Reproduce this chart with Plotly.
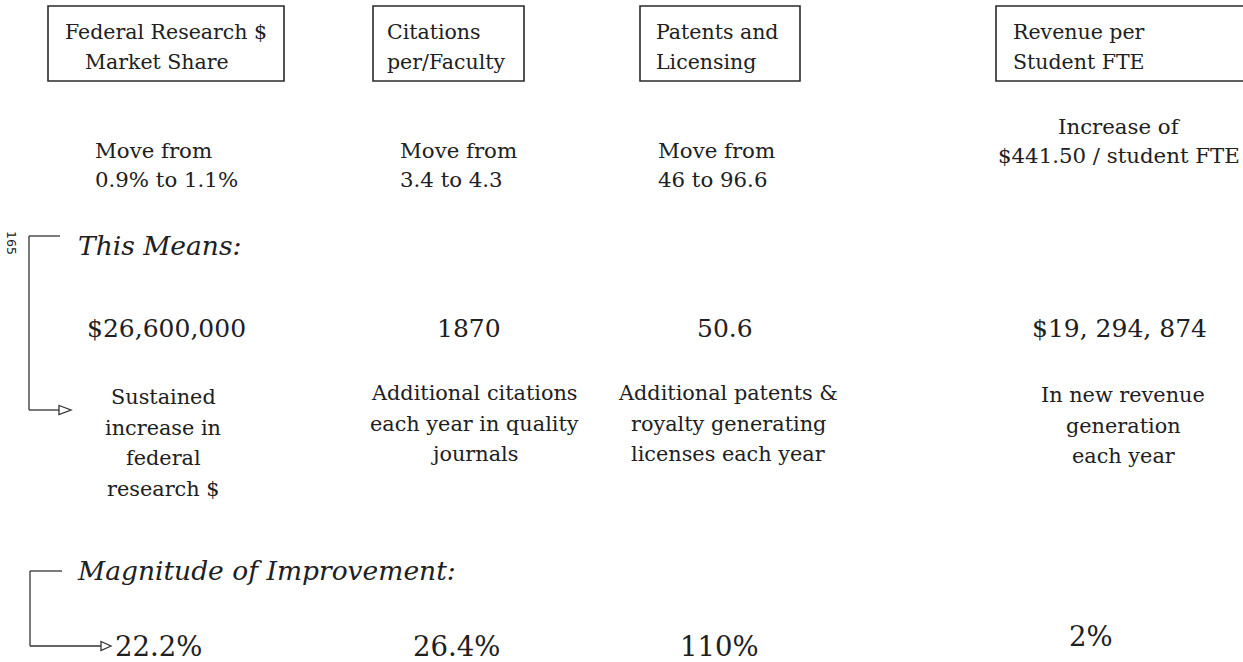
import plotly.graph_objects as go

# ---- data (text content of the diagram) ----
metric_boxes = [
    ["Federal Research $", "Market Share"],
    ["Citations", "per/Faculty"],
    ["Patents and", "Licensing"],
    ["Revenue per", "Student FTE"],
]
targets = [
    ["Move from", "0.9% to 1.1%"],
    ["Move from", "3.4 to 4.3"],
    ["Move from", "46 to 96.6"],
    ["Increase of", "$441.50 / student FTE"],
]
impact_values = ["$26,600,000", "1870", "50.6", "$19, 294, 874"]
impact_desc = [
    ["Sustained", "increase in", "federal", "research $"],
    ["Additional citations", "each year in quality", "journals"],
    ["Additional patents &", "royalty generating", "licenses each year"],
    ["In new revenue", "generation", "each year"],
]
magnitudes = ["22.2%", "26.4%", "110%", "2%"]
section_titles = ["This Means:", "Magnitude of Improvement:"]
page_number = "165"

# ---- layout constants (pixels) ----
W, H = 1243, 662
SERIF = "DejaVu Serif"
INK = "#202020"

box_x = [(48, 284), (373, 524), (640, 800), (996, 1260)]
box_y = (6, 81)
box_text_x = [[166, 157], [385, 385], [654, 654], [1011, 1011]]
box_text_anchor = ["center", "left", "left", "left"]
box_text_y = [32, 62]

target_x = [93, 398, 656, 1119]
target_anchor = ["left", "left", "left", "center"]
target_y = [[150, 179], [150, 179], [150, 179], [126, 155]]

value_x = [166, 469, 725, 1119]
value_y = 328
desc_x = [163, 474, 728, 1123]
desc_y0 = [397, 393, 393, 395]
desc_step = 30.5

mag_x = [113, 456, 719, 1091]
mag_anchor = ["left", "center", "center", "center"]
mag_y = [646, 646, 646, 636]

fig = go.Figure()
ann = []
shapes = []

def txt(x, y, s, size, anchor="center", italic=False, family=SERIF, angle=0):
    ann.append(dict(x=x, y=y, xref="x", yref="y", text=s, showarrow=False,
                    xanchor=anchor, yanchor="middle", textangle=angle,
                    font=dict(family=family, size=size, color=INK,
                              style="italic" if italic else "normal")))

for i, lines in enumerate(metric_boxes):
    x0, x1 = box_x[i]
    shapes.append(dict(type="rect", xref="x", yref="y", x0=x0, x1=x1,
                       y0=box_y[0], y1=box_y[1],
                       line=dict(color="#2a2a2a", width=1.6)))
    for j, s in enumerate(lines):
        txt(box_text_x[i][j], box_text_y[j], s, 20.5, box_text_anchor[i])

for i, lines in enumerate(targets):
    for j, s in enumerate(lines):
        txt(target_x[i], target_y[i][j], s, 21.3, target_anchor[i])

for i, s in enumerate(impact_values):
    txt(value_x[i], value_y, s, 25)

for i, lines in enumerate(impact_desc):
    for j, s in enumerate(lines):
        txt(desc_x[i], desc_y0[i] + j * desc_step, s, 20.8)

for i, s in enumerate(magnitudes):
    txt(mag_x[i], mag_y[i], s, 27.5, mag_anchor[i])

txt(76, 245, section_titles[0], 26.5, "left", italic=True)
txt(75, 570, section_titles[1], 26.5, "left", italic=True)
txt(12, 243, page_number, 12.5, "center", family="DejaVu Sans", angle=90)

# brackets with arrows
LC = "#333333"
def seg(x0, y0, x1, y1, w=1.3):
    shapes.append(dict(type="line", xref="x", yref="y", x0=x0, y0=y0,
                       x1=x1, y1=y1, line=dict(color=LC, width=w)))

def arrowhead(xb, y, xt):
    shapes.append(dict(type="path", xref="x", yref="y",
                       path=f"M{xb},{y-4.5} L{xt},{y} L{xb},{y+4.5} Z",
                       fillcolor="white", line=dict(color=LC, width=1.3)))

seg(29, 236, 60, 236)
seg(29, 236, 29, 410)
seg(29, 410, 59, 410)
arrowhead(59, 410, 71)

seg(30, 571, 62, 571)
seg(30, 571, 30, 646)
seg(30, 646, 101, 646)
arrowhead(101, 646, 111)

fig.update_layout(
    width=W, height=H,
    margin=dict(l=0, r=0, t=0, b=0),
    paper_bgcolor="white", plot_bgcolor="white",
    xaxis=dict(range=[0, W], visible=False, fixedrange=True),
    yaxis=dict(range=[H, 0], visible=False, fixedrange=True),
    annotations=ann, shapes=shapes, showlegend=False,
)
fig.write_html("out.html", config={"displayModeBar": False},
               post_script="document.body.style.margin='0';document.body.style.overflow='hidden';")
